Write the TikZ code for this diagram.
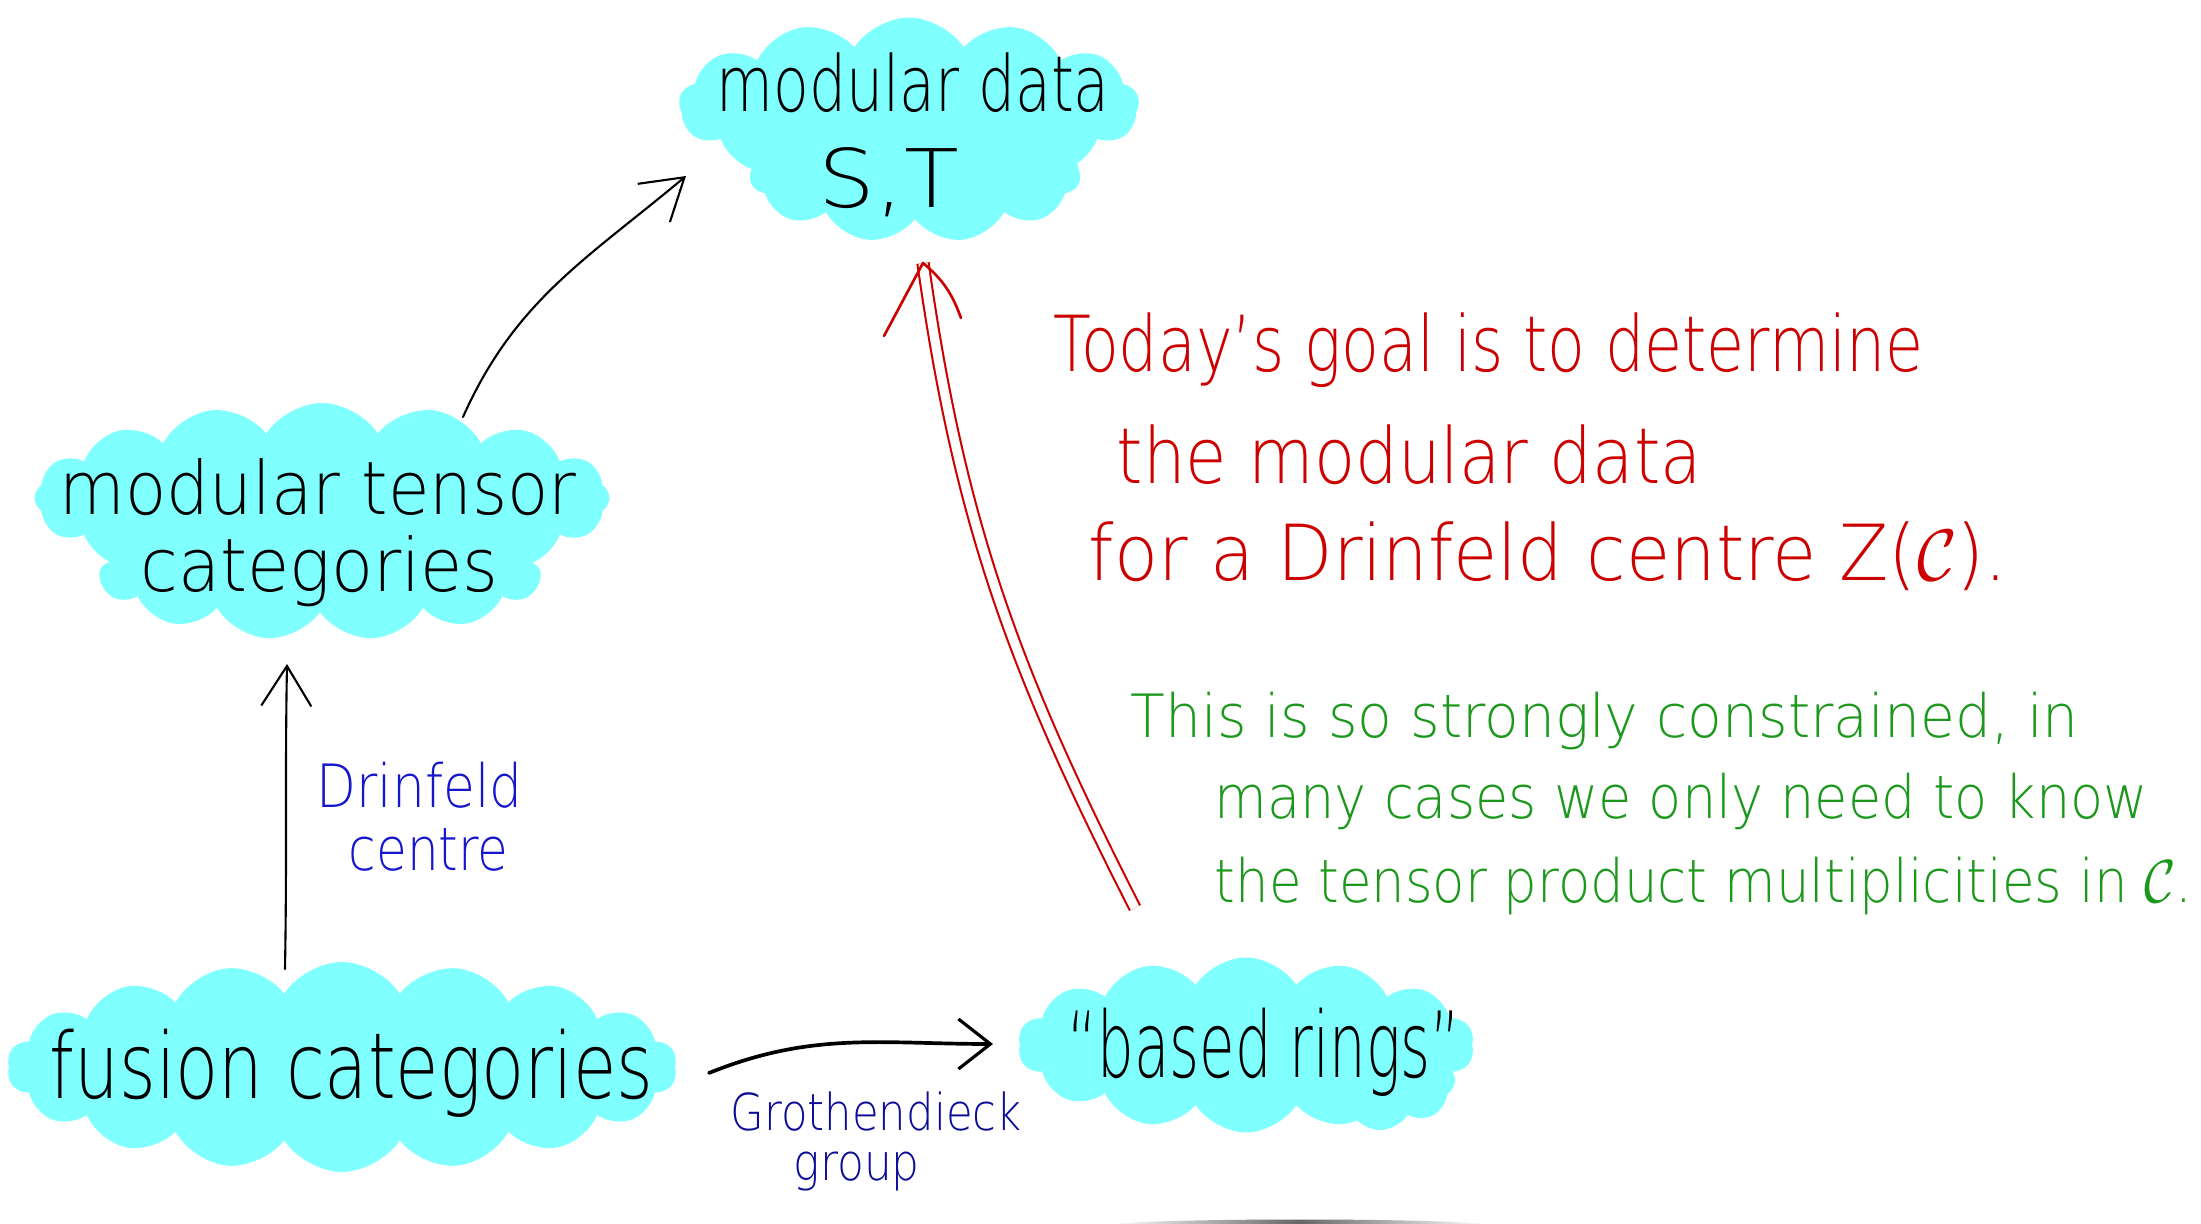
\documentclass[tikz,border=0pt]{standalone}
\usepackage{fontspec}
\usetikzlibrary{shapes.symbols,arrows.meta,calc}
\newfontfamily\handfont{DejaVu Sans ExtraLight}
\definecolor{blob}{RGB}{128,255,255}
\definecolor{redpen}{RGB}{204,0,0}
\definecolor{greenpen}{RGB}{28,152,28}
\definecolor{bluepen}{RGB}{22,22,205}
\definecolor{navypen}{RGB}{12,12,150}
% squeeze or stretch a line of handwriting to a given width
\newcommand{\fitline}[2]{\resizebox{#1}{\height}{#2}}
\tikzset{
  blobcloud/.style={cloud, cloud puffs=#1, cloud puff arc=115, cloud ignores aspect,
    fill=blob, draw=none, inner sep=0pt},
  blobcloud/.default=14,
  hand/.style={font=\handfont\fontsize{#1}{#1}\selectfont, inner sep=0pt, anchor=base west},
  pen/.style={line width=0.6pt, line cap=round, line join=round},
  barb/.style={-{Straight Barb[length=#1, width=5mm, line width=0.6pt]}},
  barb/.default=4mm
}
\begin{document}
\begin{tikzpicture}
\useasboundingbox (0,0) rectangle (22.01,-12.24);

% highlighted blobs behind the main terms
\node[blobcloud=13, minimum width=4.6cm, minimum height=1.75cm] (mdA) at (9.09,-1.05) {};
\node[blobcloud=11, minimum width=3.3cm, minimum height=1.35cm] (mdB) at (9.15,-1.75) {};
\node[blobcloud=16, minimum width=5.75cm, minimum height=1.9cm] (mtA) at (3.22,-4.98) {};
\node[blobcloud=13, minimum width=4.4cm, minimum height=1.3cm] (mtB) at (3.20,-5.75) {};
\node[blobcloud=18, minimum width=6.7cm, minimum height=2.1cm] (fcA) at (3.42,-10.67) {};
\node[blobcloud=14, minimum width=4.56cm, minimum height=1.75cm] (brA) at (12.46,-10.45) {};
\node[blobcloud=8, minimum width=1.5cm, minimum height=1.0cm] (brB) at (13.8,-10.8) {};

% the four terms
\node[hand=22] (md1) at (7.16,-1.12) {\fitline{3.93cm}{modular data}};
\node[hand=23] (md2) at (8.18,-2.08) {\fitline{1.40cm}{S,T}};
\node[hand=21] (mt1) at (0.59,-5.14) {\fitline{5.17cm}{modular tensor}};
\node[hand=21] (mt2) at (1.40,-5.92) {\fitline{3.58cm}{categories}};
\node[hand=26] (fc) at (0.49,-10.98) {\fitline{6.04cm}{fusion categories}};
\node[hand=26] (br) at (10.67,-10.77) {\fitline{3.93cm}{“based rings”}};

% labels on the arrows
\node[hand=17, text=bluepen] (dc1) at (3.16,-8.07) {\fitline{2.06cm}{Drinfeld}};
\node[hand=17, text=bluepen] (dc2) at (3.48,-8.70) {\fitline{1.60cm}{centre}};
\node[hand=14.5, text=navypen] (gg1) at (7.30,-11.30) {\fitline{2.91cm}{Grothendieck}};
\node[hand=14.5, text=navypen] (gg2) at (7.93,-11.80) {\fitline{1.26cm}{group}};

% red statement
\node[hand=22, text=redpen] (r1) at (10.53,-3.72) {\fitline{8.70cm}{Today’s goal is to determine}};
\node[hand=22, text=redpen] (r2) at (11.16,-4.84) {\fitline{5.85cm}{the modular data}};
\node[hand=22, text=redpen] (r3) at (10.88,-5.80) {\fitline{9.19cm}{for a Drinfeld centre Z($\mathcal{C}$).}};

% green remark
\node[hand=17, text=greenpen] (g1) at (11.30,-7.37) {\fitline{9.48cm}{This is so strongly constrained, in}};
\node[hand=17, text=greenpen] (g2) at (12.14,-8.19) {\fitline{9.33cm}{many cases we only need to know}};
\node[hand=17, text=greenpen] (g3) at (12.14,-9.02) {\fitline{9.78cm}{the tensor product multiplicities in $\mathcal{C}$.}};

% arrow end points
\coordinate (mtTop) at (4.63,-4.17);
\coordinate (mdIn) at (6.86,-1.76);
\coordinate (fcTop) at (2.85,-9.69);
\coordinate (mtIn) at (2.87,-6.64);
\coordinate (fcOut) at (7.09,-10.73);
\coordinate (brIn) at (9.93,-10.44);
\coordinate (brTop) at (11.35,-9.08);
\coordinate (mdIn2) at (9.23,-2.63);

% black arrows
\draw[pen, barb] (mtTop) to[out=66, in=220] (mdIn);
\draw[pen, barb] (fcTop) to[out=89, in=-91] (mtIn);
\draw[line width=1.05pt, line cap=round, -{Straight Barb[length=3.2mm, width=5mm, line width=0.9pt]}]
  (fcOut) to[out=22, in=180] (brIn);

% red double arrow
\draw[redpen, line width=0.6pt, double=white, double distance=2.6pt] (brTop) to[out=117, in=-82] (mdIn2);
\draw[pen, redpen, line width=0.75pt] ($(mdIn2)+(-0.39,-0.73)$) -- (mdIn2) to[out=-40, in=110] ($(mdIn2)+(0.38,-0.55)$);

% soft grey rule at the bottom edge
\shade[left color=white, right color=white, middle color=black!60] (11.10,-12.24) .. controls (11.8,-12.18) and (14.2,-12.18) .. (14.88,-12.24) -- cycle;
\end{tikzpicture}
\end{document}
